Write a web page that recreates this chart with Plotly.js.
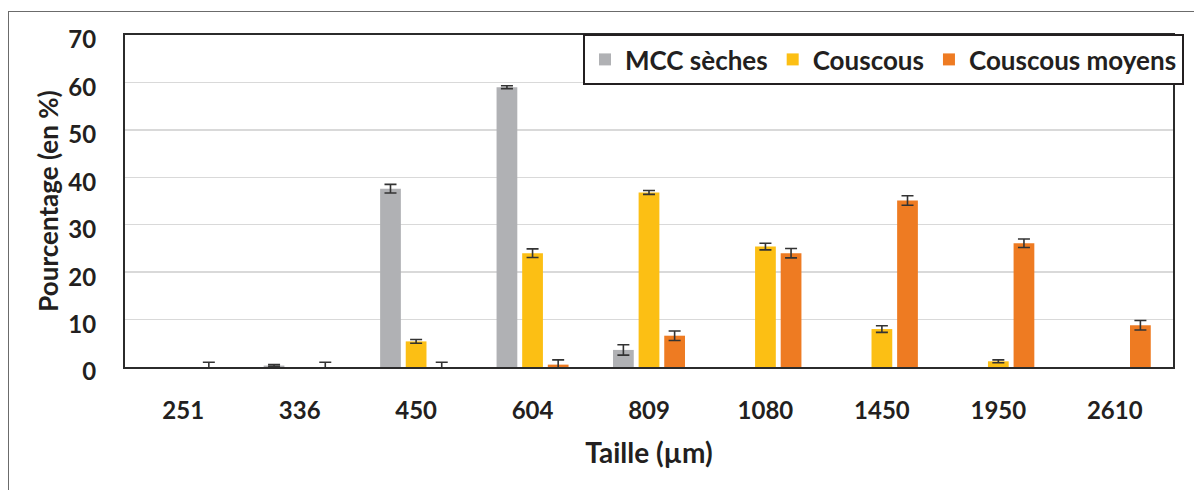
<!DOCTYPE html>
<html><head><meta charset="utf-8">
<script src="https://cdn.plot.ly/plotly-3.0.1.min.js"></script>
<style>
body{margin:0;padding:0;background:#fff;overflow:hidden;}
#wrap{position:relative;width:1194px;height:490px;}
#chart{position:absolute;left:0;top:0;width:1194px;height:490px;}
#frame{position:absolute;left:8px;top:11px;width:1200px;height:500px;border:1.5px solid #6b6b6b;box-sizing:border-box;pointer-events:none;}
</style></head>
<body>
<div id="wrap"><div id="chart"></div><div id="frame"></div></div>
<script>
const categories = ['251','336','450','604','809','1080','1450','1950','2610'];
const mccValues = [0, 0.3, 37.6, 59.0, 3.6, 0, 0, 0, 0];
const mccErrors = [NaN, 0.2, 0.9, 0.3, 1.1, NaN, NaN, NaN, NaN];
const couscousValues = [0, 0, 5.4, 24.0, 36.8, 25.4, 8.0, 1.2, 0];
const couscousErrors = [NaN, NaN, 0.4, 0.9, 0.4, 0.7, 0.7, 0.3, NaN];
const moyensValues = [0, 0, 0, 0.5, 6.6, 24.0, 35.1, 26.1, 8.8];
const moyensErrors = [1.0, 1.0, 1.0, 1.0, 1.0, 1.0, 1.0, 0.9, 1.0];
const seriesNames = ['MCC sèches', 'Couscous', 'Couscous moyens'];

const errStyle = (arr) => ({type:'data', array:arr, visible:true, color:'#333', thickness:1.6, width:6});
const fam = 'Lato, "Open Sans", sans-serif';
const fnt = (s) => ({family:fam, size:s, weight:'bold', color:'#231f20'});

const traces = [
  {type:'bar', name:seriesNames[0], x:categories, y:mccValues, error_y:errStyle(mccErrors), marker:{color:'#b0b1b4'}},
  {type:'bar', name:seriesNames[1], x:categories, y:couscousValues, error_y:errStyle(couscousErrors), marker:{color:'#fcbf14'}},
  {type:'bar', name:seriesNames[2], x:categories, y:moyensValues, error_y:errStyle(moyensErrors), marker:{color:'#ee7b22'}}
];

const layout = {
  width:1194, height:490,
  margin:{l:125, r:10, t:35, b:123, pad:0},
  paper_bgcolor:'rgba(0,0,0,0)', plot_bgcolor:'#fff',
  barmode:'group', bargap:0.34, bargroupgap:0.19,
  font:fnt(24),
  xaxis:{type:'category', showline:true, linecolor:'#2b2b2b', linewidth:2, mirror:true,
         ticks:'', ticklabelstandoff:21, tickfont:fnt(24),
         title:{text:'Taille (µm)', font:fnt(28), standoff:21}},
  yaxis:{range:[0,70], dtick:10, showline:true, linecolor:'#2b2b2b', linewidth:2, mirror:true,
         showgrid:true, gridcolor:'#d9d9d9', gridwidth:1.5, zeroline:false,
         ticks:'', ticklabelstandoff:22, ticklabelshift:5, tickfont:fnt(24),
         title:{text:'Pourcentage (en %)', font:fnt(26), standoff:2}},
  legend:{orientation:'h', x:0.437, xanchor:'left', y:1.003, yanchor:'top',
          bgcolor:'#fff', bordercolor:'#231f20', borderwidth:2, font:fnt(26),
          itemwidth:30, tracegroupgap:0},
  showlegend:true
};

Plotly.newPlot('chart', traces, layout, {displayModeBar:false, staticPlot:true});
</script>
</body></html>
